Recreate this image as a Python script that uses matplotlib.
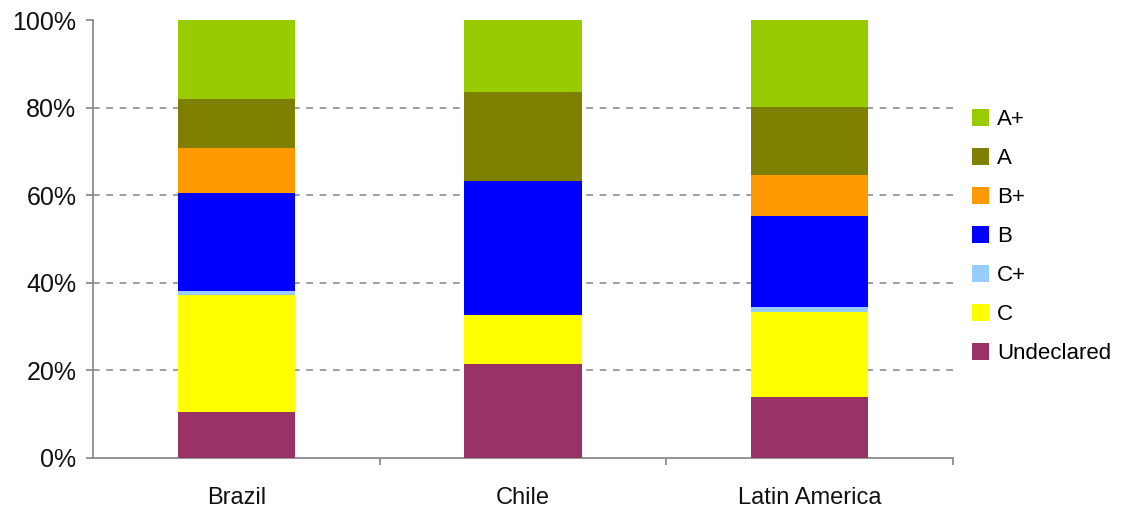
import matplotlib
matplotlib.use("Agg")
import matplotlib.pyplot as plt
from matplotlib.patches import Patch
import numpy as np

plt.rcParams['font.family'] = ['Liberation Sans', 'DejaVu Sans']

categories = ["Brazil", "Chile", "Latin America"]
segments = ["Undeclared", "C", "C+", "B", "B+", "A", "A+"]
undeclared = [10.5, 21.5, 13.9]
grade_c = [26.7, 11.1, 19.4]
grade_c_plus = [0.9, 0.0, 1.2]
grade_b = [22.4, 30.6, 20.8]
grade_b_plus = [10.3, 0.0, 9.3]
grade_a = [11.2, 20.4, 15.5]
grade_a_plus = [18.0, 16.4, 19.9]
y_ticks = [0, 20, 40, 60, 80, 100]
y_tick_labels = ["0%", "20%", "40%", "60%", "80%", "100%"]

series = [undeclared, grade_c, grade_c_plus, grade_b, grade_b_plus, grade_a, grade_a_plus]
colors = ["#993366", "#FFFF00", "#99CCFF", "#0000FF", "#FF9900", "#808000", "#99CC00"]

fig = plt.figure(figsize=(11.3, 5.09), dpi=100)
ax = fig.add_axes([0.0823, 0.1002, 0.7611, 0.8605])

x = np.arange(len(categories))
bottom = np.zeros(len(categories))
for vals, col in zip(series, colors):
    vals = np.array(vals, dtype=float)
    ax.bar(x, vals, width=0.41, bottom=bottom, color=col, edgecolor='none', zorder=3)
    bottom += vals

ax.set_xlim(-0.5, 2.5)
ax.set_ylim(0, 100)
ax.set_yticks(y_ticks)
ax.set_yticklabels(y_tick_labels)
ax.set_xticks(x)
ax.set_xticklabels(categories)
ax.set_xticks([0.5, 1.5, 2.5], minor=True)

for gy in y_ticks[1:-1]:
    ax.axhline(gy, color='#8c8c8c', linestyle=(0, (4, 4)), linewidth=1.2, zorder=1)

for side in ['top', 'right']:
    ax.spines[side].set_visible(False)
for side in ['left', 'bottom']:
    ax.spines[side].set_color('#8c8c8c')
    ax.spines[side].set_linewidth(1.3)

ax.tick_params(axis='y', direction='out', length=5, width=1.3, color='#8c8c8c',
               labelsize=18, labelcolor='#111111', pad=7)
ax.tick_params(axis='x', which='major', length=0, labelsize=17, labelcolor='#111111', pad=21)
ax.tick_params(axis='x', which='minor', direction='out', length=5, width=1.3, color='#8c8c8c')

handles = [Patch(facecolor=c, edgecolor='none') for c in colors[::-1]]
fig.legend(handles, segments[::-1], loc='center left', bbox_to_anchor=(0.852, 0.535),
           frameon=False, fontsize=16, handlelength=0.8, handleheight=0.8,
           handletextpad=0.35, labelspacing=0.8, borderaxespad=0)

fig.savefig("out.png", dpi=100)
